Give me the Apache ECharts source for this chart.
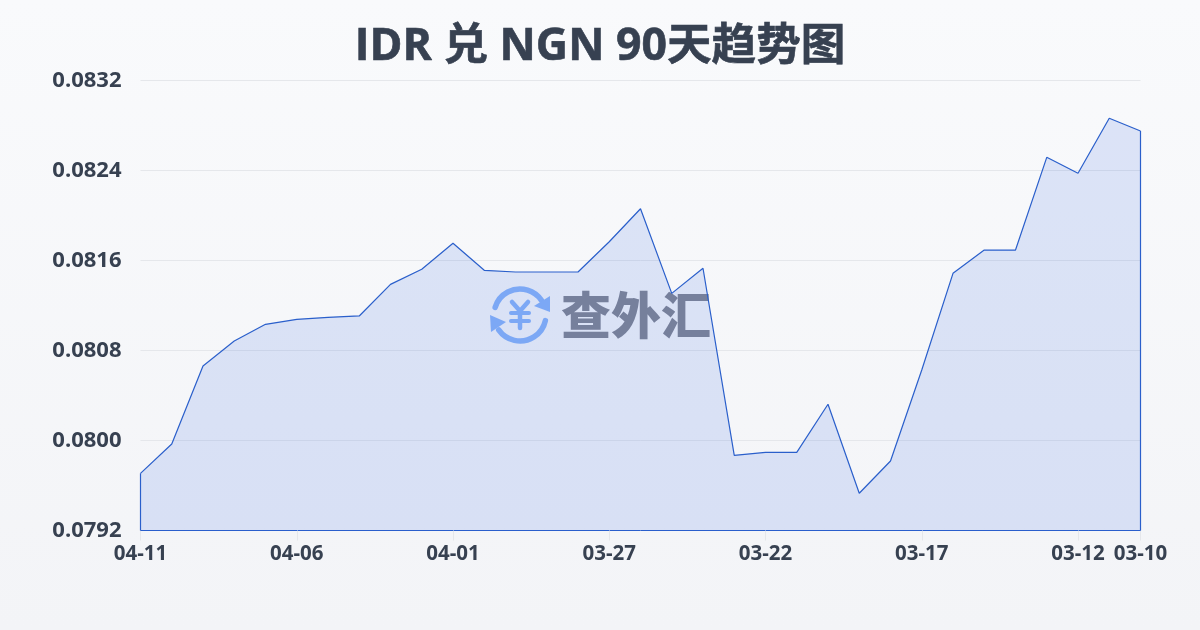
<!DOCTYPE html>
<html>
<head>
<meta charset="utf-8">
<style>html,body{margin:0;padding:0;background:#f6f7fa}#c{width:1200px;height:630px}</style>
<script src="https://cdn.jsdelivr.net/npm/echarts@6/dist/echarts.min.js"></script>
</head>
<body>
<div id="c"></div>
<script>
var titleText = 'IDR 兑 NGN 90天趋势图';
var dates = ['04-11','04-10','04-09','04-08','04-07','04-06','04-05','04-04','04-03','04-02','04-01','03-31','03-30','03-29','03-28','03-27','03-26','03-25','03-24','03-23','03-22','03-21','03-20','03-19','03-18','03-17','03-16','03-15','03-14','03-13','03-12','03-11','03-10'];
var rates = [0.079708,0.079969,0.080662,0.080884,0.081033,0.081077,0.081095,0.081107,0.081388,0.081522,0.081753,0.081513,0.081498,0.081498,0.081498,0.081767,0.08206,0.081308,0.081531,0.079868,0.079895,0.079895,0.080322,0.079531,0.079818,0.080627,0.081486,0.081693,0.081693,0.082517,0.082375,0.082864,0.082751];
var yMin = 0.0792, yMax = 0.0832, yStep = 0.0008;
var lastIdx = dates.length - 1;
var showTick = function (i) { return i === lastIdx || i % 5 === 0; };
var font = '"Open Sans","Noto Sans CJK SC",sans-serif';
var ink = '#374151', lineColor = '#2a5fcb', logoBlue = '#8ab4f8', markGray = '#7c808c';

var chart = echarts.init(document.getElementById('c'), null, {renderer:'canvas', width:1200, height:630});
chart.setOption({
  animation:false,
  backgroundColor:{type:'linear',x:0,y:0,x2:0,y2:1,colorStops:[{offset:0,color:'#f9fafc'},{offset:1,color:'#f3f4f7'}]},
  title:{text:titleText,left:'center',top:20,textStyle:{color:ink,fontSize:44.6,fontWeight:'bold',fontFamily:font,textBorderColor:ink,textBorderWidth:0.6}},
  grid:{left:140.5,right:59.5,top:80.5,bottom:99.5,containLabel:false},
  xAxis:{type:'category',data:dates,boundaryGap:false,
    axisLine:{show:true,lineStyle:{color:lineColor,width:1}},
    axisTick:{show:true,length:10,interval:function(i){return showTick(i);},lineStyle:{color:'#e5e7eb'}},
    axisLabel:{interval:function(i){return showTick(i);},color:ink,fontSize:20.5,fontWeight:'bold',fontFamily:font,margin:13.5,hideOverlap:false,showMinLabel:true,showMaxLabel:true},
    splitLine:{show:false}},
  yAxis:{type:'value',min:yMin,max:yMax,interval:yStep,
    axisLine:{show:false},axisTick:{show:false},
    axisLabel:{color:ink,fontSize:22,fontWeight:'bold',fontFamily:font,margin:19,padding:[0,0,7,0],formatter:function(v){return v.toFixed(4);}},
    splitLine:{lineStyle:{color:'#e5e7eb',width:1}}},
  series:[{type:'line',data:rates,symbol:'none',smooth:false,
    lineStyle:{color:lineColor,width:1.2},
    areaStyle:{color:'rgba(37,90,225,0.19)'},
    markLine:{silent:true,symbol:'none',label:{show:false},lineStyle:{color:lineColor,width:1.2,type:'solid'},
      data:[
        [{xAxis:dates[0],yAxis:yMin},{xAxis:dates[0],yAxis:rates[0]}],
        [{xAxis:dates[lastIdx],yAxis:yMin},{xAxis:dates[lastIdx],yAxis:rates[lastIdx]}]
      ]}
  }],
  graphic:[{type:'group',z:100,silent:true,children:[
    {type:'arc',shape:{cx:520,cy:315,r:26,startAngle:197*Math.PI/180,endAngle:325*Math.PI/180,clockwise:true},style:{fill:null,stroke:logoBlue,lineWidth:5.5,lineCap:'round'}},
    {type:'arc',shape:{cx:520,cy:315,r:26,startAngle:12.5*Math.PI/180,endAngle:145*Math.PI/180,clockwise:true},style:{fill:null,stroke:logoBlue,lineWidth:5.5,lineCap:'round'}},
    {type:'polygon',shape:{points:[[550,296],[550,312],[534,306]]},style:{fill:logoBlue}},
    {type:'polygon',shape:{points:[[490,315],[491,332],[506,322]]},style:{fill:logoBlue}},
    {type:'polyline',shape:{points:[[512,302],[520,311],[528,302]]},style:{fill:null,stroke:logoBlue,lineWidth:4.5,lineCap:'round',lineJoin:'round'}},
    {type:'line',shape:{x1:511,y1:313,x2:529,y2:313},style:{stroke:logoBlue,lineWidth:4,lineCap:'round'}},
    {type:'line',shape:{x1:511,y1:321,x2:529,y2:321},style:{stroke:logoBlue,lineWidth:4,lineCap:'round'}},
    {type:'line',shape:{x1:520,y1:311,x2:520,y2:328},style:{stroke:logoBlue,lineWidth:4.5,lineCap:'round'}},
    {type:'text',style:{x:636,y:315,text:'查外汇',fill:markGray,font:'900 50px "Noto Sans CJK SC",sans-serif',textAlign:'center',textVerticalAlign:'middle',opacity:0.95}}
  ]}]
});
</script>
</body>
</html>
